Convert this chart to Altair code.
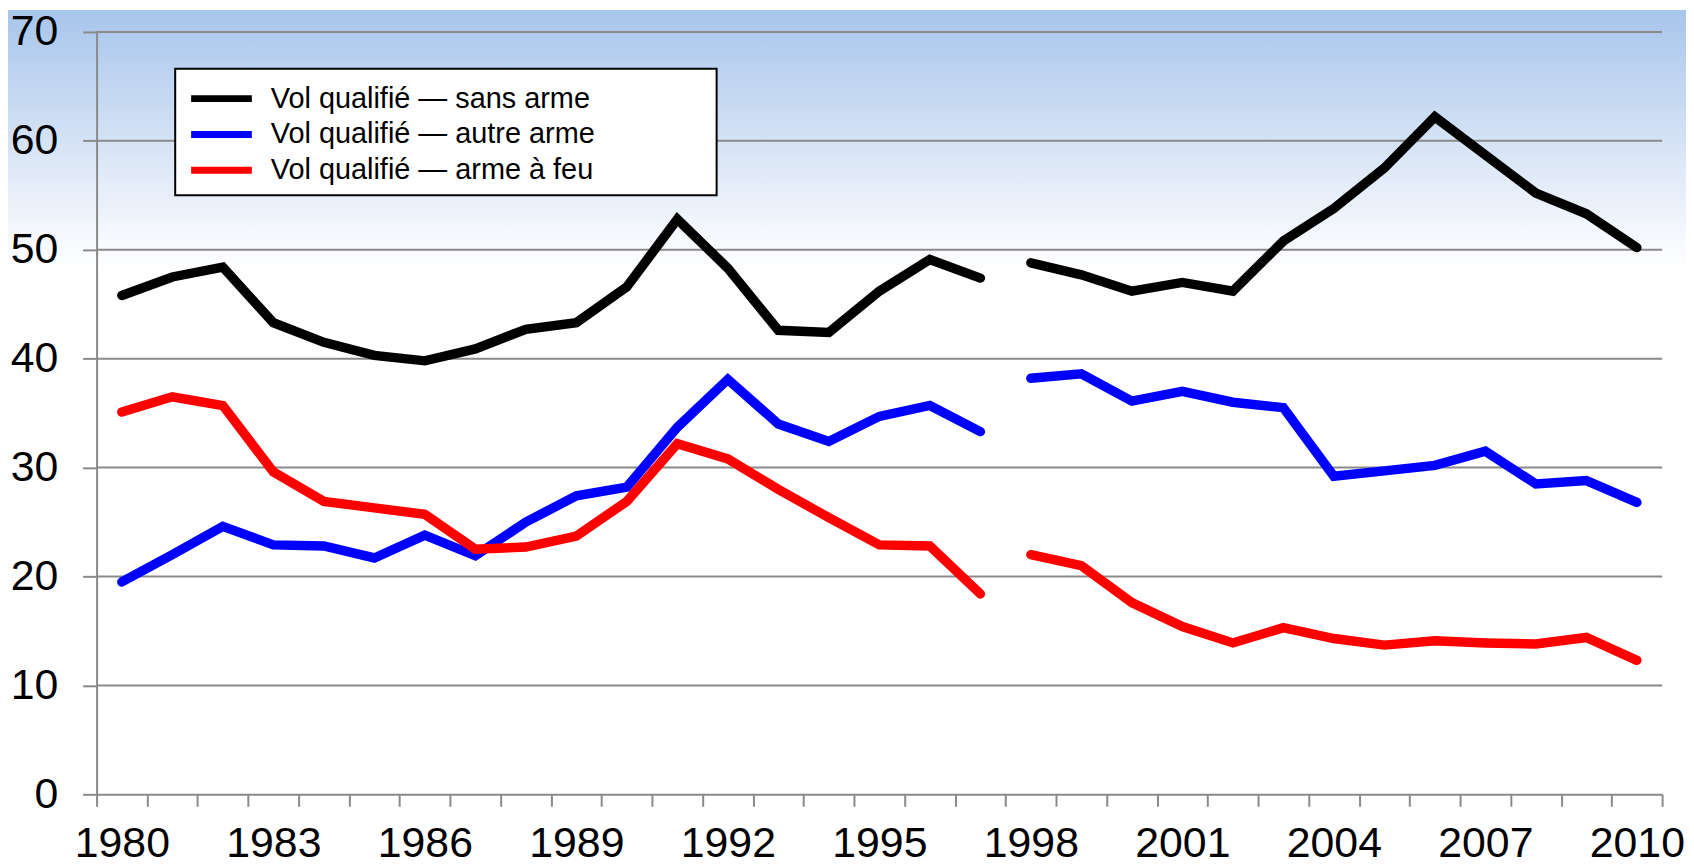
import altair as alt
import pandas as pd

years = list(range(1980, 2011))
series_names = ["Vol qualifié — sans arme", "Vol qualifié — autre arme", "Vol qualifié — arme à feu"]
series_colors = ["#000000", "#0000ff", "#ff0000"]

sans_arme = [45.8, 47.5, 48.4, 43.3, 41.5, 40.3, 39.8, 40.9, 42.7, 43.3, 46.6, 52.8, 48.3, 42.6, 42.4, 46.2, 49.1, 47.4,
             48.8, 47.7, 46.2, 47.0, 46.2, 50.8, 53.8, 57.5, 62.2, 58.7, 55.2, 53.3, 50.2]
autre_arme = [19.5, 22.0, 24.6, 22.9, 22.8, 21.7, 23.8, 21.9, 25.0, 27.4, 28.2, 33.7, 38.1, 34.0, 32.4, 34.7, 35.7, 33.3,
              38.2, 38.6, 36.1, 37.0, 36.0, 35.5, 29.2, 29.7, 30.2, 31.5, 28.5, 28.8, 26.8]
arme_feu = [35.1, 36.5, 35.7, 29.6, 26.9, 26.3, 25.7, 22.5, 22.7, 23.7, 26.9, 32.2, 30.8, 28.0, 25.4, 22.9, 22.8, 18.4,
            22.0, 21.0, 17.6, 15.4, 13.9, 15.3, 14.3, 13.7, 14.1, 13.9, 13.8, 14.4, 12.3]
break_after = 1997
y_ticks = [0, 10, 20, 30, 40, 50, 60, 70]

rows = []
for name, vals in zip(series_names, [sans_arme, autre_arme, arme_feu]):
    for yr, v in zip(years, vals):
        rows.append({"annee": yr, "valeur": v, "serie": name,
                     "segment": "a" if yr <= break_after else "b"})
df = pd.DataFrame(rows)

W, H = 1573, 766
PAD_L, PAD_T, PAD_R, PAD_B = 89, 22, 24, 70
FONT = "Liberation Sans"
GRID = "#8a8a8a"
LABEL_SIZE = 43

half_ticks = [y - 0.5 for y in years] + [years[-1] + 0.5]
x_scale = alt.Scale(domain=[years[0] - 0.5, years[-1] + 0.5], nice=False, zero=False)
y_scale = alt.Scale(domain=[0, 70], nice=False)

y_axis = alt.Axis(values=y_ticks, title=None, grid=False, domainColor=GRID, domainWidth=2,
                  tickColor=GRID, tickWidth=2, tickSize=14, labelFont=FONT, labelFontSize=LABEL_SIZE,
                  labelColor="#000000", labelPadding=25, labelBound=False, zindex=1)
x_axis = alt.Axis(values=half_ticks, title=None, grid=False, domainColor=GRID, domainWidth=2,
                  tickColor=GRID, tickWidth=2, tickSize=12, labelFont=FONT, labelFontSize=LABEL_SIZE,
                  labelColor="#000000", labelPadding=17, labelOffset=W / len(years) / 2,
                  labelFlush=False, labelOverlap=False, labelBound=False, zindex=1,
                  labelExpr="((datum.value + 0.5 - 1980) % 3 == 0) ? toString(datum.value + 0.5) : ''")

# background gradient (light blue at the top fading to white)
bg = alt.Chart(pd.DataFrame({"k": [0]})).mark_rect(
    fill=alt.LinearGradient(gradient="linear",
                            stops=[alt.GradientStop(color="#a8c5ec", offset=0),
                                   alt.GradientStop(color="#c3d7f1", offset=0.25),
                                   alt.GradientStop(color="#dfe9f7", offset=0.5),
                                   alt.GradientStop(color="#f5f8fd", offset=0.7),
                                   alt.GradientStop(color="#ffffff", offset=0.82),
                                   alt.GradientStop(color="#ffffff", offset=1)],
                            x1=0, x2=0, y1=0, y2=1),
    strokeWidth=0
).encode(x=alt.value(-PAD_L), x2=alt.value(W + PAD_R), y=alt.value(-PAD_T), y2=alt.value(300))

grid = alt.Chart(pd.DataFrame({"v": y_ticks[1:]})).mark_rule(color=GRID, strokeWidth=2).encode(
    y=alt.Y("v:Q", scale=y_scale, axis=y_axis)
)

lines = alt.Chart(df).mark_line(strokeWidth=9.5, strokeCap="round", strokeJoin="miter").encode(
    x=alt.X("annee:Q", scale=x_scale, axis=x_axis),
    y=alt.Y("valeur:Q", scale=y_scale, axis=y_axis),
    color=alt.Color("serie:N", scale=alt.Scale(domain=series_names, range=series_colors), legend=None),
    detail="segment:N",
    order="annee:Q",
)

# legend (drawn as marks)
LX0, LX1, LY0, LY1 = 79, 623, 37, 164
leg_box = alt.Chart(pd.DataFrame({"k": [0]})).mark_rect(fill="white", stroke="black", strokeWidth=2).encode(
    x=alt.value(LX0), x2=alt.value(LX1), y=alt.value(LY0), y2=alt.value(LY1)
)
leg_layers = []
for i, (name, col) in enumerate(zip(series_names, series_colors)):
    yy = 67 + 36 * i
    d = pd.DataFrame({"serie": [name]})
    leg_layers.append(alt.Chart(d).mark_rule(color=col, strokeWidth=7, strokeCap="butt").encode(
        x=alt.value(95), x2=alt.value(156), y=alt.value(yy)))
    leg_layers.append(alt.Chart(d).mark_text(font=FONT, fontSize=29, align="left", baseline="middle",
                                             color="black").encode(
        x=alt.value(175), y=alt.value(yy), text="serie:N"))

chart = alt.layer(bg, grid, lines, leg_box, *leg_layers).properties(
    width=W, height=H,
    autosize=alt.AutoSizeParams(type="none"),
    padding={"left": PAD_L, "top": PAD_T, "right": PAD_R, "bottom": PAD_B},
    background="white",
).configure_view(stroke=None)

chart.save("out.html", embed_options={"renderer": "svg", "actions": False})
